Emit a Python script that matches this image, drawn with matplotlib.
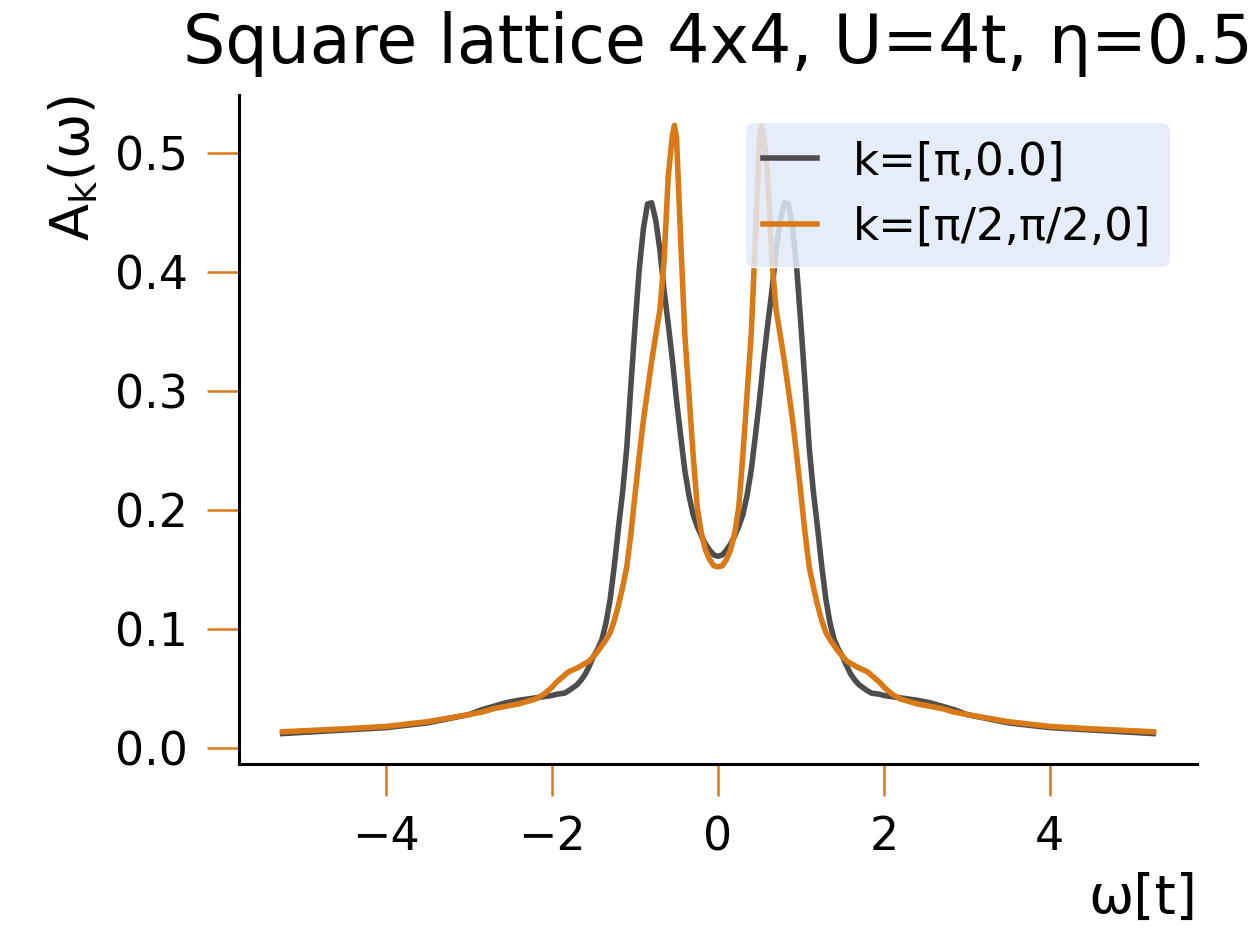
import matplotlib
matplotlib.use('Agg')
import matplotlib.pyplot as plt

# omega grid (units of t)
omega = [-5.25, -4.5, -4.0, -3.5, -3.0, -2.85, -2.7, -2.55, -2.4, -2.2, -2.1, -2.0, -1.95,
         -1.85, -1.8, -1.7, -1.65, -1.6, -1.55, -1.5, -1.45, -1.4, -1.35, -1.3, -1.25, -1.2,
         -1.15, -1.1, -1.05, -1.0, -0.95, -0.9, -0.85, -0.8, -0.75, -0.7, -0.65, -0.6, -0.55,
         -0.525, -0.5, -0.45, -0.4, -0.35, -0.3, -0.25, -0.2, -0.15, -0.1, -0.05, 0.0,
         0.05, 0.1, 0.15, 0.2, 0.25, 0.3, 0.35, 0.4, 0.45, 0.5, 0.525, 0.55, 0.6, 0.65,
         0.7, 0.75, 0.8, 0.85, 0.9, 0.95, 1.0, 1.05, 1.1, 1.15, 1.2, 1.25, 1.3, 1.35, 1.4,
         1.45, 1.5, 1.55, 1.6, 1.65, 1.7, 1.8, 1.85, 1.95, 2.0, 2.1, 2.2, 2.4, 2.55, 2.7,
         2.85, 3.0, 3.5, 4.0, 4.5, 5.25]

# k=[pi,0]
a_pi0 = [0.012, 0.015, 0.017, 0.021, 0.028, 0.032, 0.035, 0.038, 0.040, 0.042, 0.043, 0.044, 0.045,
         0.046, 0.048, 0.053, 0.057, 0.062, 0.069, 0.077, 0.083, 0.091, 0.105, 0.125, 0.153, 0.185,
         0.215, 0.252, 0.305, 0.355, 0.402, 0.436, 0.457, 0.458, 0.443, 0.418, 0.384, 0.356, 0.326,
         0.309, 0.292, 0.262, 0.233, 0.212, 0.196, 0.186, 0.178, 0.171, 0.166, 0.162, 0.161,
         0.162, 0.166, 0.171, 0.178, 0.186, 0.196, 0.212, 0.233, 0.262, 0.292, 0.309, 0.326, 0.356, 0.384,
         0.418, 0.443, 0.458, 0.457, 0.436, 0.402, 0.355, 0.305, 0.252, 0.215, 0.185, 0.153, 0.125, 0.105, 0.091,
         0.083, 0.077, 0.069, 0.062, 0.057, 0.053, 0.048, 0.046, 0.045, 0.044, 0.043, 0.042, 0.040, 0.038, 0.035,
         0.032, 0.028, 0.021, 0.017, 0.015, 0.012]

# k=[pi/2,pi/2]
a_pi2 = [0.0135, 0.016, 0.018, 0.022, 0.028, 0.030, 0.033, 0.035, 0.037, 0.041, 0.045, 0.051, 0.055,
         0.061, 0.064, 0.067, 0.069, 0.071, 0.073, 0.077, 0.081, 0.086, 0.091, 0.097, 0.107, 0.120,
         0.135, 0.152, 0.180, 0.213, 0.245, 0.275, 0.300, 0.325, 0.347, 0.368, 0.410, 0.480, 0.515,
         0.523, 0.512, 0.427, 0.347, 0.297, 0.246, 0.202, 0.180, 0.166, 0.158, 0.153, 0.152,
         0.153, 0.158, 0.166, 0.180, 0.202, 0.246, 0.297, 0.347, 0.427, 0.512, 0.523, 0.515, 0.480, 0.410,
         0.368, 0.347, 0.325, 0.300, 0.275, 0.245, 0.213, 0.180, 0.152, 0.135, 0.120, 0.107, 0.097, 0.091, 0.086,
         0.081, 0.077, 0.073, 0.071, 0.069, 0.067, 0.064, 0.061, 0.055, 0.051, 0.045, 0.041, 0.037, 0.035, 0.033,
         0.030, 0.028, 0.022, 0.018, 0.016, 0.0135]

grey = '#4d4d4d'
orange = '#d97a16'

fig = plt.figure(figsize=(12.6, 9.44), dpi=100)
ax = fig.add_axes([0.1897, 0.1907, 0.7603, 0.7087])

ax.plot(omega, a_pi0, color=grey, lw=4, label='k=[π,0.0]')
ax.plot(omega, a_pi2, color=orange, lw=4, label='k=[π/2,π/2,0]')

ax.set_yticks([0.0, 0.1, 0.2, 0.3, 0.4, 0.5])
ax.set_xticks([-4, -2, 0, 2, 4])
ax.tick_params(direction='out', length=23, width=1.8, color=orange, labelsize=33, pad=14)

for s in ['top', 'right']:
    ax.spines[s].set_visible(False)
for s in ['left', 'bottom']:
    ax.spines[s].set_linewidth(2.2)

ax.set_title('Square lattice 4x4, U=4t, η=0.5', fontsize=48, pad=23)
ax.set_xlabel('ω[t]', fontsize=39, loc='right', labelpad=8)
ax.set_ylabel('A$_\\mathrm{k}$(ω)', fontsize=39, loc='top', labelpad=10)

leg = ax.legend(loc='upper right', fontsize=32.5, handlelength=1.2, labelspacing=0.5,
                borderaxespad=0.6, facecolor='#e2eaf8', edgecolor='white', framealpha=0.85)

fig.savefig('out.png', dpi=100)
